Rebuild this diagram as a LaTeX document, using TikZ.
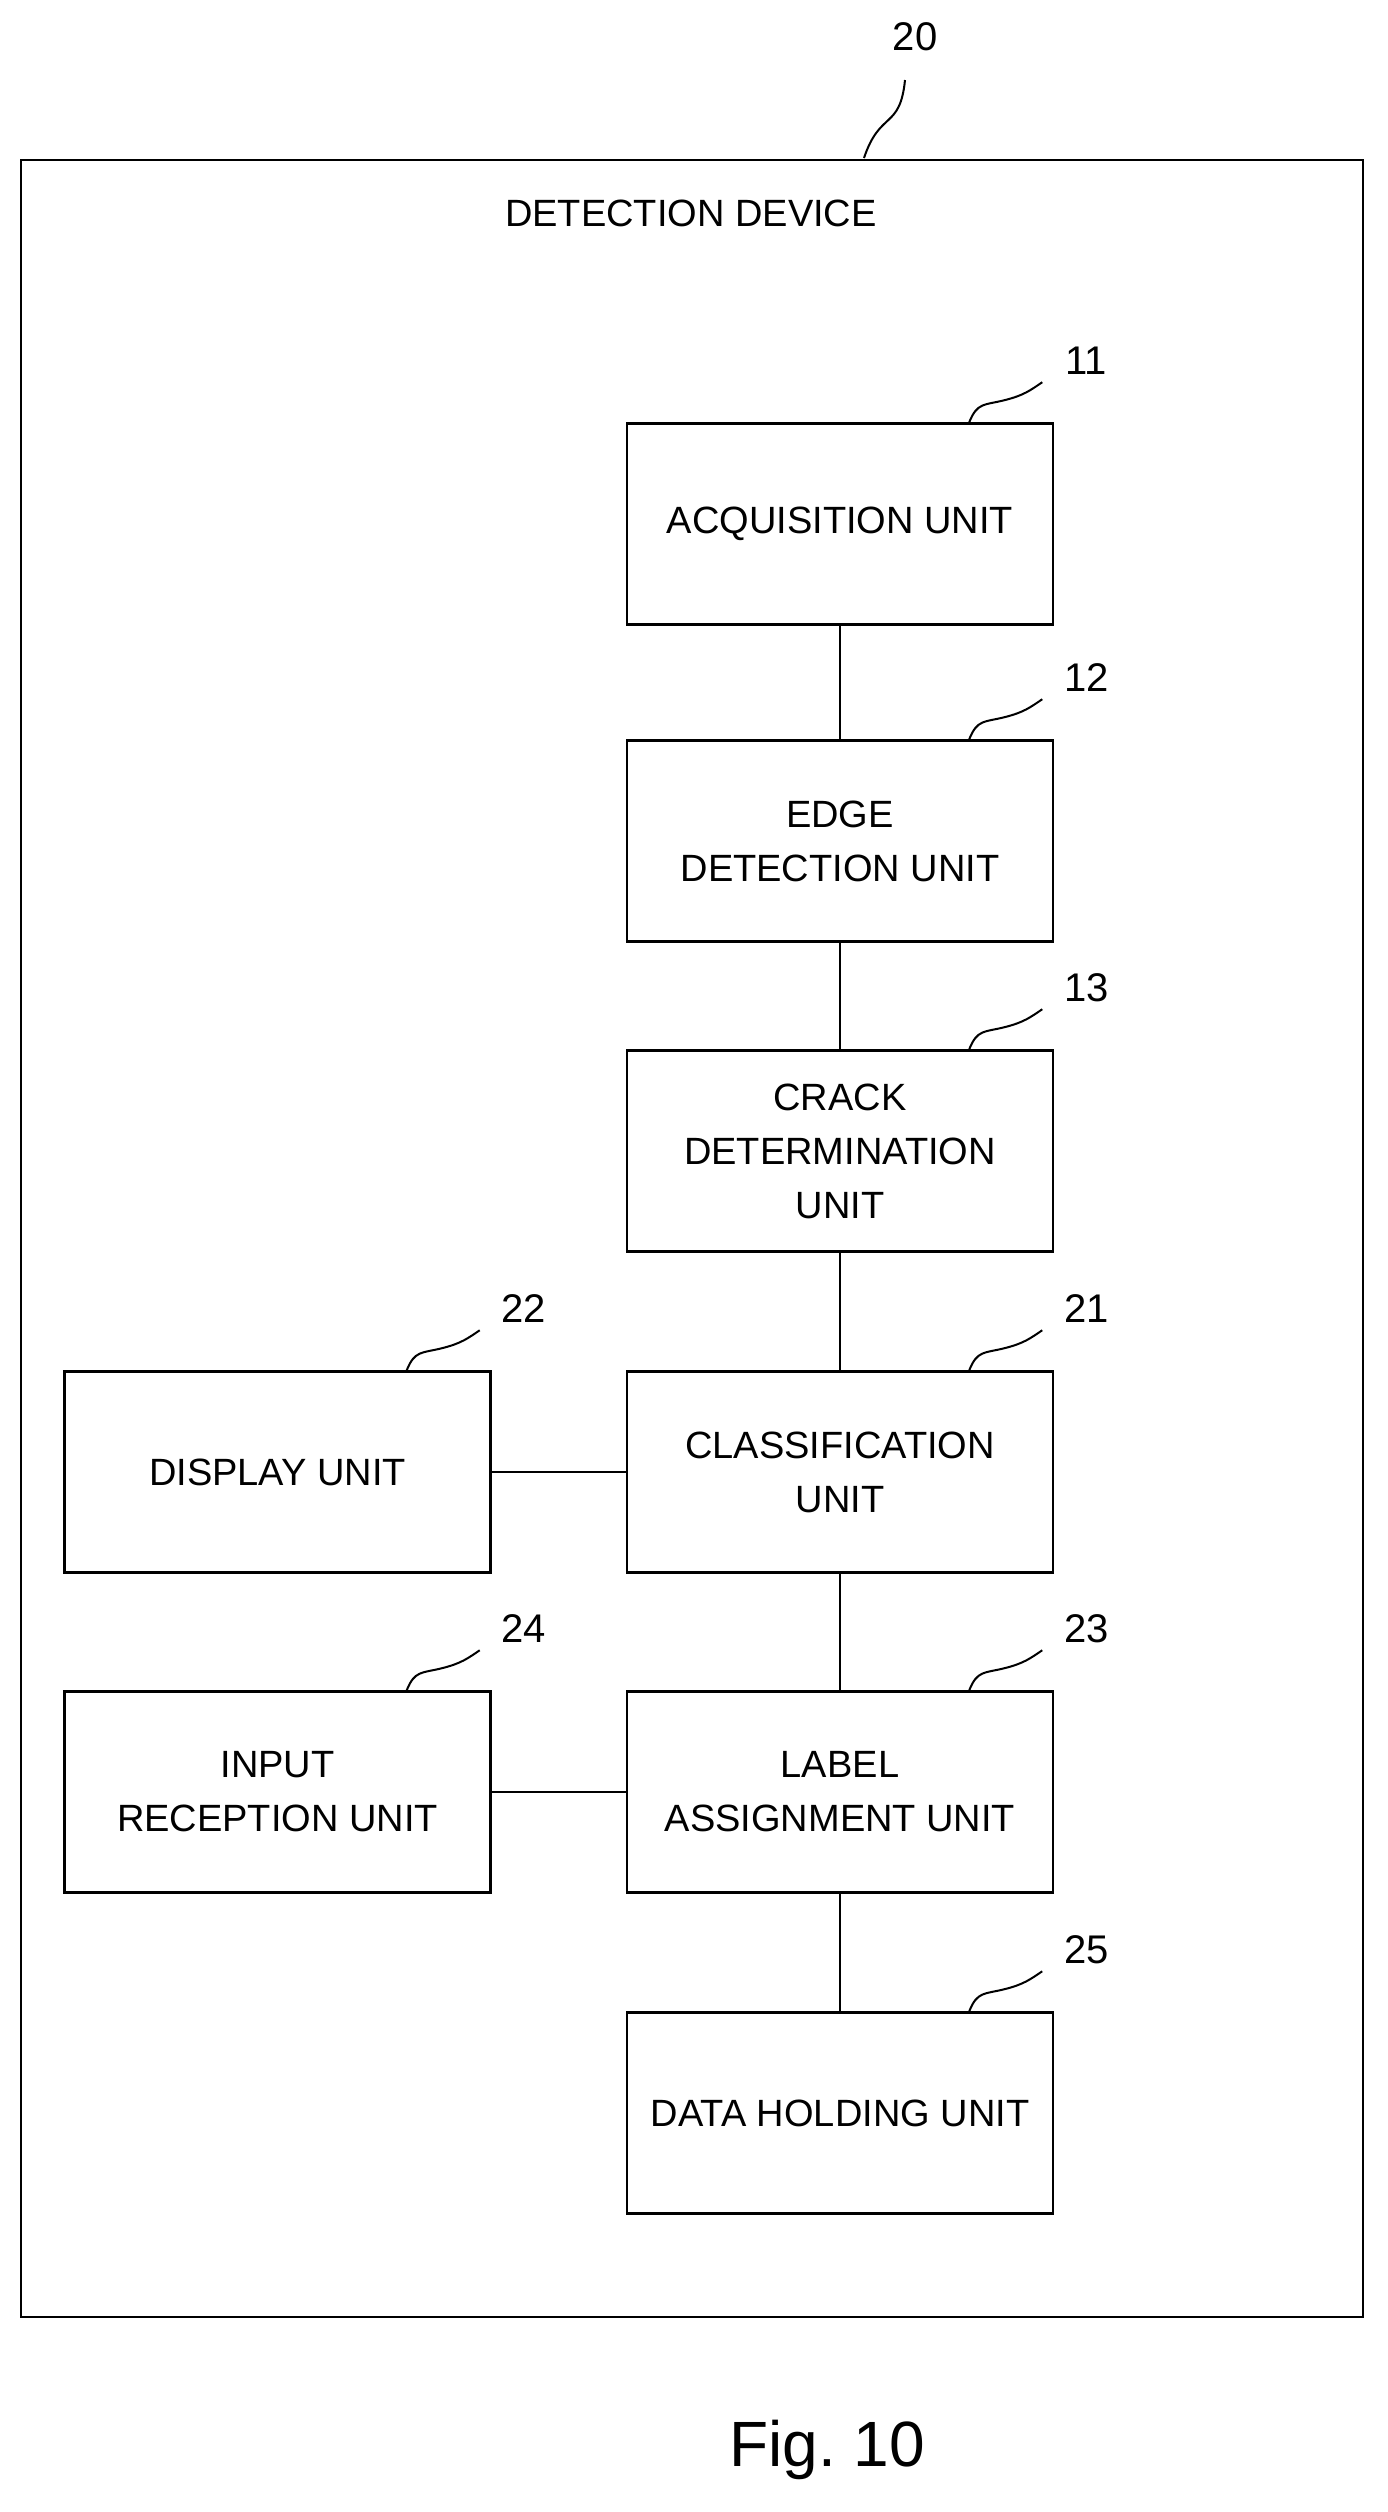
\documentclass[tikz,border=0pt]{standalone}
\usepackage{fontspec}
\setmainfont{Liberation Sans}
\begin{document}
\begin{tikzpicture}[x=1pt,y=-1pt,
  box/.style={draw,line width=2.5pt,minimum width=426pt,minimum height=201pt,align=center,font=\fontsize{38}{54}\selectfont,inner sep=0pt},
  num/.style={font=\fontsize{40}{40}\selectfont},
  ld/.style={line width=2pt}]
\useasboundingbox (0,0) rectangle (1388,2512);
\node[draw,line width=2.5pt,minimum width=1342pt,minimum height=2157pt,inner sep=0pt] (dev) at (692,1238.5) {};
\node[font=\fontsize{38}{38}\selectfont] (devt) at (691,213) {DETECTION DEVICE};
\node[num] (n20) at (915,37) {20};
\draw[ld] (864,158) .. controls (880,110) and (900,130) .. (905,80);
\node[box] (a) at (840,524) {ACQUISITION UNIT};
\node[box] (e) at (840,841) {EDGE\\DETECTION UNIT};
\node[box] (c) at (840,1151) {CRACK\\DETERMINATION\\UNIT};
\node[box] (cl) at (840,1472) {CLASSIFICATION\\UNIT};
\node[box] (l) at (840,1792) {LABEL\\ASSIGNMENT UNIT};
\node[box] (d) at (840,2113) {DATA HOLDING UNIT};
\node[box] (disp) at (277.5,1472) {DISPLAY UNIT};
\node[box] (in) at (277.5,1792) {INPUT\\RECEPTION UNIT};
\foreach \b/\n/\t in {a/n11/11,e/n12/12,c/n13/13,cl/n21/21,l/n23/23,d/n25/25,disp/n22/22,in/n24/24}{
  \node[num] (\n) at ([shift={(32,-62)}]\b.north east) {\t};
  \coordinate (s\n) at ([shift={(-85,0)}]\b.north east);
  \draw[ld] (s\n) .. controls ++(8,-20) and ++(-20,5) .. ([shift={(-50,-22)}]\b.north east) .. controls ++(20,-5) and ++(-12,8) .. ([shift={(-12,-40)}]\b.north east);
}
\draw[line width=2.5pt] (a) -- (e) (e) -- (c) (c) -- (cl) (cl) -- (l) (l) -- (d) (disp) -- (cl) (in) -- (l);
\node[font=\fontsize{64}{64}\selectfont] (fig) at (827,2450) {Fig.\ 10};
\end{tikzpicture}
\end{document}
